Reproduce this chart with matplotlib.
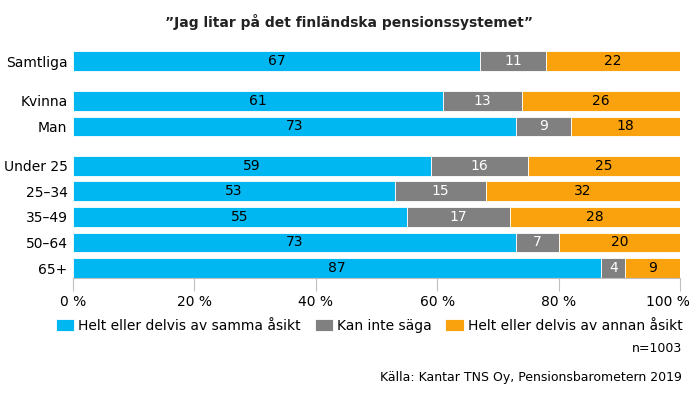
import matplotlib.pyplot as plt
import matplotlib.transforms as mtransforms
import numpy as np

# Data
groups = ["Samtliga", "Kvinna", "Man", "Under 25", "25–34", "35–49", "50–64", "65+"]
agree = [67, 61, 73, 59, 53, 55, 73, 87]
cant_say = [11, 13, 9, 16, 15, 17, 7, 4]
disagree = [22, 26, 18, 25, 32, 28, 20, 9]
series_names = ["Helt eller delvis av samma åsikt", "Kan inte säga",
                "Helt eller delvis av annan åsikt"]

blue = "#00B7F1"
grey = "#808080"
orange = "#F9A20D"

# rows with gaps between the groups
ypos = np.array([0, 1.56, 2.56, 4.1, 5.1, 6.1, 7.1, 8.1])

fig = plt.figure(figsize=(6.98, 3.95), dpi=100)
ax = fig.add_axes([73 / 698, 1 - 278 / 395, (680 - 73) / 698, (278 - 45) / 395])

h = 0.78
left = np.zeros(len(groups))
for vals, col, name, txtcol in zip([agree, cant_say, disagree], [blue, grey, orange],
                                    series_names, ["black", "white", "black"]):
    ax.barh(ypos, vals, left=left, height=h, color=col, label=name,
            edgecolor="white", linewidth=0.6)
    for y, l, v in zip(ypos, left, vals):
        ax.text(l + v / 2, y, str(v), ha="center", va="center", fontsize=10, color=txtcol)
    left = left + np.array(vals)

ax.set_xlim(0, 100)
ax.set_ylim(8.1 + 0.39, -0.63)
ax.set_yticks(ypos)
ax.set_yticklabels(groups, fontsize=10)
ax.tick_params(axis="y", length=0, pad=4)
ax.set_xticks(np.arange(0, 101, 20))
ax.set_xticklabels([f"{t} %" for t in range(0, 101, 20)], fontsize=10)
ax.tick_params(axis="x", length=9, color="#bfbfbf", pad=3)
# keep "100 %" inside the figure
last = ax.get_xticklabels()[-1]
last.set_transform(last.get_transform() +
                   mtransforms.ScaledTranslation(-12 / 100, 0, fig.dpi_scale_trans))
for s in ["top", "right", "left"]:
    ax.spines[s].set_visible(False)
ax.spines["bottom"].set_color("#bfbfbf")

fig.text(0.5, 1 - 22 / 395, "”Jag litar på det finländska pensionssystemet”",
         ha="center", va="center", fontsize=10, fontweight="bold", color="#222222")

fig.legend(loc="center right", bbox_to_anchor=(688 / 698, 1 - 326 / 395), ncol=3,
           frameon=False, fontsize=10, handlelength=1.3, handleheight=1.0,
           handletextpad=0.3, columnspacing=1.0, borderaxespad=0)

fig.text(682 / 698, 1 - 348 / 395, "n=1003", ha="right", va="center", fontsize=9)
fig.text(682 / 698, 1 - 377 / 395, "Källa: Kantar TNS Oy, Pensionsbarometern 2019",
         ha="right", va="center", fontsize=9)

fig.savefig("out.png", dpi=100)
